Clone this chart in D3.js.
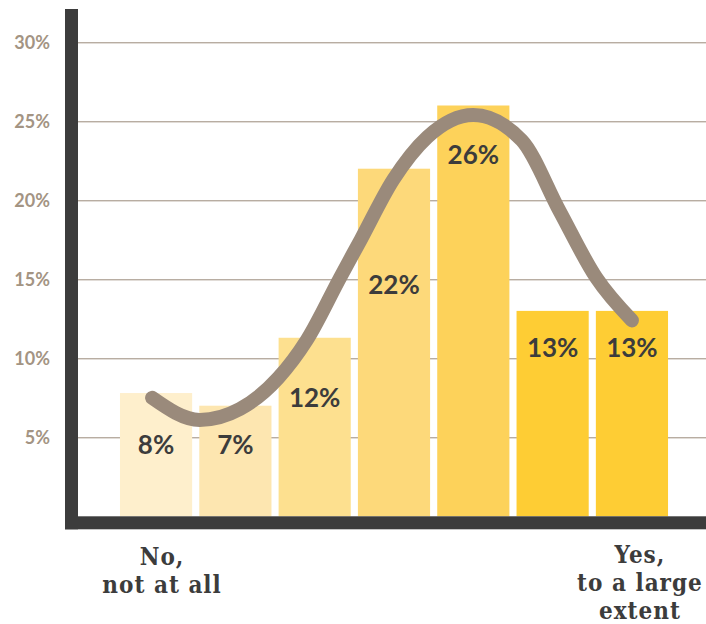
<!DOCTYPE html>
<html>
<head>
<meta charset="utf-8">
<script src="https://cdn.jsdelivr.net/npm/d3@7"></script>
<style>
  html, body { margin: 0; padding: 0; background: #fff; }
</style>
</head>
<body>
<div class="d3-content"></div>
<script>
// data
const categories = ['1', '2', '3', '4', '5', '6', '7'];
const values = [7.8, 7.0, 11.3, 22.0, 26.0, 13.0, 13.0];
const valueLabels = ['8%', '7%', '12%', '22%', '26%', '13%', '13%'];
const barColors = ['#feefcc', '#fde6b0', '#fde08f', '#fdd97a', '#fdd25a', '#fecd34', '#fecd34'];
const yTicks = [5, 10, 15, 20, 25, 30];
// smoothed trend line: position on the category axis (0 = first bar) and value
const trendPos = [-0.05, 0.55, 1.06, 1.54, 1.90, 2.32, 2.58, 2.99, 3.42, 4.0, 4.61, 5.09, 5.55, 6.0];
const trendVal = [7.5, 6.1, 6.8, 8.75, 11.15, 15.1, 17.5, 21.3, 24.0, 25.4, 23.8, 19.3, 15.1, 12.4];
const leftLabel = ['No,', 'not at all'];
const rightLabel = ['Yes,', 'to a large', 'extent'];

const SVG_WIDTH = 706;
const SVG_HEIGHT = 624;
const AXIS_X = 78;      // inner edge of the thick left axis
const AXIS_Y = 516.3;   // inner edge of the thick bottom axis
const AXIS_W = 13;

const svg = d3.select('.d3-content')
              .append('svg')
              .attr('width', SVG_WIDTH)
              .attr('height', SVG_HEIGHT);

const yscale = d3.scaleLinear()
  .domain([0, 30])
  .range([AXIS_Y, 42.3]);

const xscale = d3.scaleBand()
  .domain(categories)
  .range([116.4, 671.6])
  .paddingInner(0.09)
  .paddingOuter(0.045);

const bw = xscale.bandwidth();
const xpos = d3.scaleLinear()
  .domain([0, categories.length - 1])
  .range([xscale(categories[0]) + bw / 2, xscale(categories[categories.length - 1]) + bw / 2]);

// gridlines + tick labels
const yaxis = svg.append('g')
  .attr('transform', `translate(${AXIS_X}, 0)`)
  .call(d3.axisLeft(yscale)
    .tickValues(yTicks)
    .tickSize(-(SVG_WIDTH - AXIS_X))
    .tickPadding(28)
    .tickFormat(d => d + '%'));

yaxis.select('.domain').remove();
yaxis.selectAll('line')
  .attr('stroke', '#9a8a7b')
  .attr('stroke-width', 1);
yaxis.selectAll('text')
  .attr('fill', '#a39483')
  .attr('font-family', 'Lato, sans-serif')
  .attr('font-weight', 'bold')
  .attr('font-size', 18);

// bars
svg.append('g')
  .selectAll('rect')
  .data(values)
  .join('rect')
  .attr('x', (d, i) => xscale(categories[i]))
  .attr('y', d => yscale(d))
  .attr('width', bw)
  .attr('height', d => yscale(0) - yscale(d))
  .attr('fill', (d, i) => barColors[i]);

// thick axes
svg.append('rect')
  .attr('x', AXIS_X - AXIS_W).attr('y', 9)
  .attr('width', AXIS_W).attr('height', AXIS_Y + AXIS_W - 9)
  .attr('fill', '#3c3c3c');
svg.append('rect')
  .attr('x', AXIS_X - AXIS_W).attr('y', AXIS_Y)
  .attr('width', SVG_WIDTH - AXIS_X + AXIS_W).attr('height', AXIS_W)
  .attr('fill', '#3c3c3c');

// trend curve
const trend = trendPos.map((p, i) => ({ pos: p, val: trendVal[i] }));
const generator = d3.line()
  .x(d => xpos(d.pos))
  .y(d => yscale(d.val))
  .curve(d3.curveMonotoneX);

svg.append('path')
  .datum(trend)
  .attr('d', generator)
  .attr('fill', 'none')
  .attr('stroke', '#9a8a7b')
  .attr('stroke-width', 14)
  .attr('stroke-linecap', 'round');

// value labels, pushed down from the bar top to keep clear of the curve
const labelDrop = [61, 48, 69, 125, 58, 46, 46];
svg.append('g')
  .selectAll('text')
  .data(valueLabels)
  .join('text')
  .text(d => d)
  .attr('x', (d, i) => xpos(i))
  .attr('y', (d, i) => yscale(values[i]) + labelDrop[i])
  .attr('text-anchor', 'middle')
  .attr('fill', '#3c3c3c')
  .attr('font-family', 'Lato, sans-serif')
  .attr('font-weight', 'bold')
  .attr('font-size', 26);

// end labels (one text element, one tspan per line)
function endLabel(lines, cx, y0) {
  svg.append('text')
    .attr('text-anchor', 'middle')
    .attr('fill', '#3c3c3c')
    .attr('font-family', '"DejaVu Serif", serif')
    .attr('font-weight', 'bold')
    .attr('font-stretch', 'condensed')
    .attr('letter-spacing', 1)
    .attr('font-size', 24)
    .selectAll('tspan')
    .data(lines)
    .join('tspan')
    .text(d => d)
    .attr('x', cx)
    .attr('y', (d, i) => y0 + i * 28);
}
endLabel(leftLabel, xpos(0) + 6, 565);
endLabel(rightLabel, xpos(6) + 8, 563);
</script>
</body>
</html>
